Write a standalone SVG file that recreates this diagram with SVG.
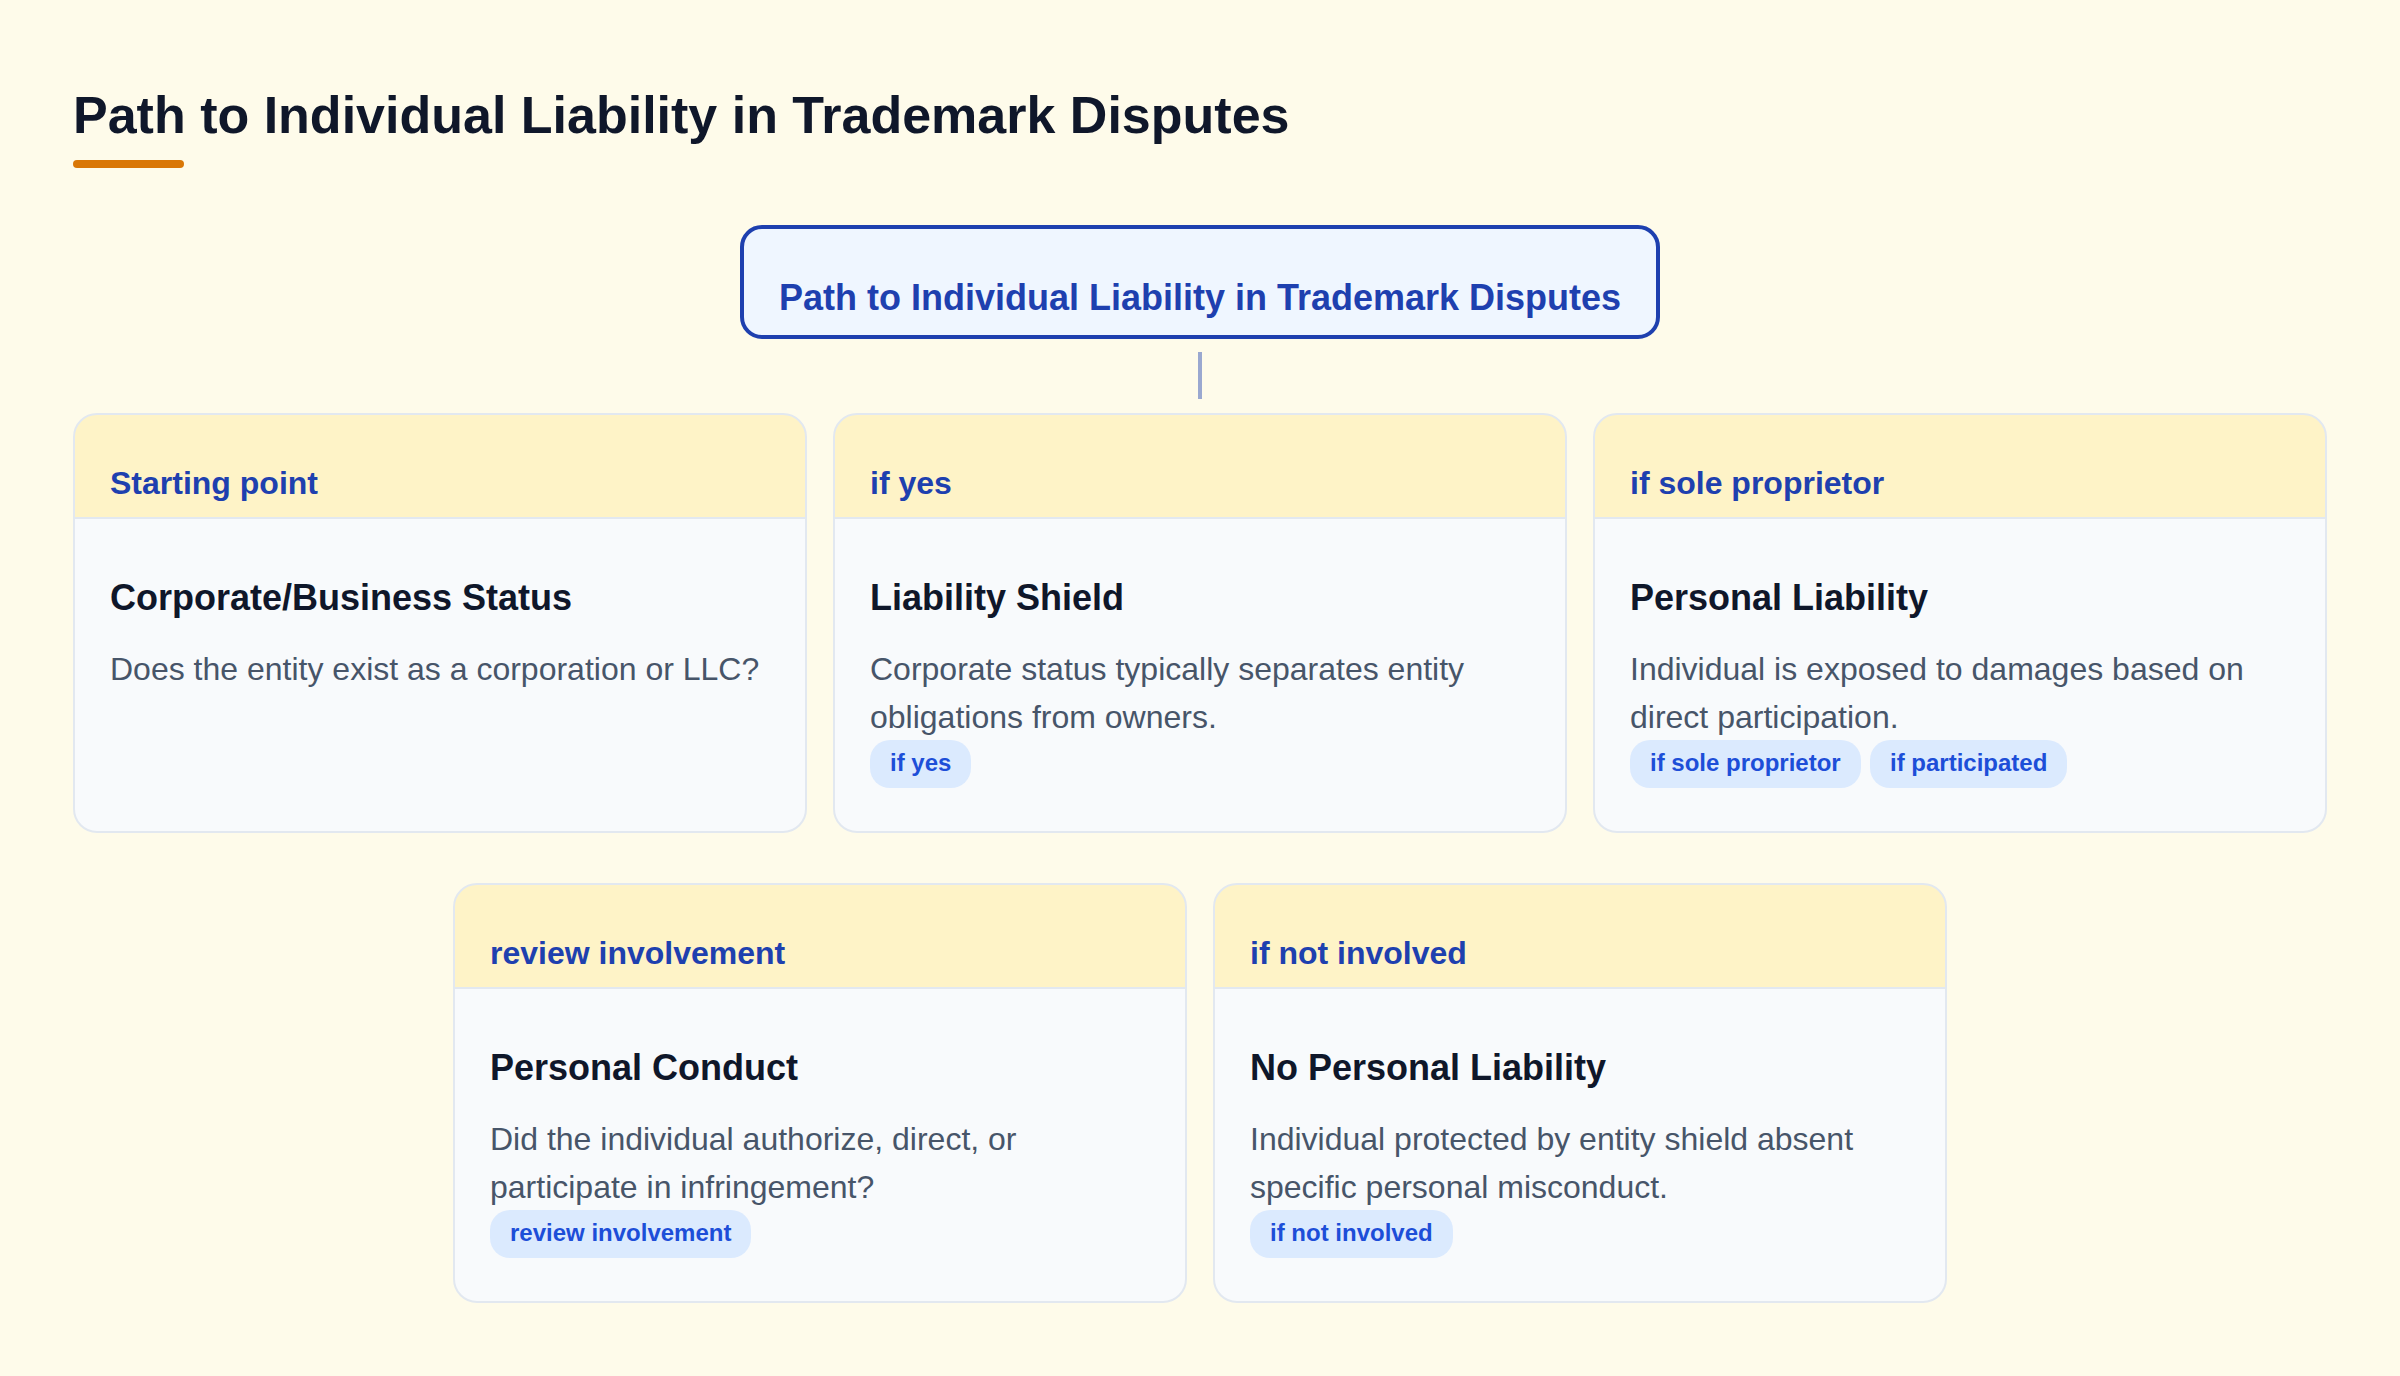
<svg xmlns="http://www.w3.org/2000/svg" width="2400" height="1376" viewBox="0 0 2400 1376">
<style>
text{font-family:"Liberation Sans",Arial,Helvetica,sans-serif}
.page-title{font-size:52px;font-weight:700;fill:#0f172a}
.root-box{fill:#eff6ff;stroke:#1e40af;stroke-width:4}
.root-text{font-size:36px;font-weight:700;fill:#1e40af}
.card-body{fill:#f8fafc}
.card-head{fill:#fef3c7}
.card-sep{stroke:#e2e8f0;stroke-width:2;fill:none}
.card-outline{fill:none;stroke:#e2e8f0;stroke-width:2}
.head-text{font-size:32px;font-weight:700;fill:#1e40af}
.card-title{font-size:36px;font-weight:700;fill:#0f172a}
.card-desc{font-size:32px;fill:#475569}
.tag{fill:#dbeafe}
.tag-text{font-size:24px;font-weight:700;fill:#1d4ed8}
.conn{stroke:#9aa8d0;stroke-width:4;fill:none}
</style>
<defs>
<g id="card-frame">
<rect class="card-body" x="1" y="1" width="732" height="418" rx="23"/>
<path class="card-head" d="M1,105 V24 A23,23 0 0 1 24,1 H710 A23,23 0 0 1 733,24 V105 Z"/>
<path class="card-sep" d="M1,105 H733"/>
<rect class="card-outline" x="1" y="1" width="732" height="418" rx="23"/>
</g>
</defs>
<rect width="2400" height="1376" fill="#fefbea"/>
<g id="header">
<text class="page-title" x="73" y="133">Path to Individual Liability in Trademark Disputes</text>
<rect x="73" y="160" width="111" height="8" rx="4" fill="#d97706"/>
</g>
<g id="connectors">
<path class="conn" d="M1200,352 V399"/>
</g>
<g id="root">
<rect class="root-box" x="742" y="227" width="916" height="110" rx="20"/>
<text class="root-text" x="1200" y="310" text-anchor="middle">Path to Individual Liability in Trademark Disputes</text>
</g>
<g id="node-corporate-status" transform="translate(73,413)">
<use href="#card-frame"/>
<text class="head-text" x="37" y="81">Starting point</text>
<text class="card-title" x="37" y="197">Corporate/Business Status</text>
<text class="card-desc" x="37" y="267">Does the entity exist as a corporation or LLC?</text>
</g>
<g id="node-liability-shield" transform="translate(833,413)">
<use href="#card-frame"/>
<text class="head-text" x="37" y="81">if yes</text>
<text class="card-title" x="37" y="197">Liability Shield</text>
<text class="card-desc" x="37" y="267">Corporate status typically separates entity</text>
<text class="card-desc" x="37" y="315">obligations from owners.</text>
<rect class="tag" x="37" y="327" width="101" height="48" rx="20"/>
<text class="tag-text" x="57" y="358">if yes</text>
</g>
<g id="node-personal-liability" transform="translate(1593,413)">
<use href="#card-frame"/>
<text class="head-text" x="37" y="81">if sole proprietor</text>
<text class="card-title" x="37" y="197">Personal Liability</text>
<text class="card-desc" x="37" y="267">Individual is exposed to damages based on</text>
<text class="card-desc" x="37" y="315">direct participation.</text>
<rect class="tag" x="37" y="327" width="231" height="48" rx="20"/>
<text class="tag-text" x="57" y="358">if sole proprietor</text>
<rect class="tag" x="277" y="327" width="197" height="48" rx="20"/>
<text class="tag-text" x="297" y="358">if participated</text>
</g>
<g id="node-personal-conduct" transform="translate(453,883)">
<use href="#card-frame"/>
<text class="head-text" x="37" y="81">review involvement</text>
<text class="card-title" x="37" y="197">Personal Conduct</text>
<text class="card-desc" x="37" y="267">Did the individual authorize, direct, or</text>
<text class="card-desc" x="37" y="315">participate in infringement?</text>
<rect class="tag" x="37" y="327" width="261" height="48" rx="20"/>
<text class="tag-text" x="57" y="358">review involvement</text>
</g>
<g id="node-no-liability" transform="translate(1213,883)">
<use href="#card-frame"/>
<text class="head-text" x="37" y="81">if not involved</text>
<text class="card-title" x="37" y="197">No Personal Liability</text>
<text class="card-desc" x="37" y="267">Individual protected by entity shield absent</text>
<text class="card-desc" x="37" y="315">specific personal misconduct.</text>
<rect class="tag" x="37" y="327" width="203" height="48" rx="20"/>
<text class="tag-text" x="57" y="358">if not involved</text>
</g>
</svg>
